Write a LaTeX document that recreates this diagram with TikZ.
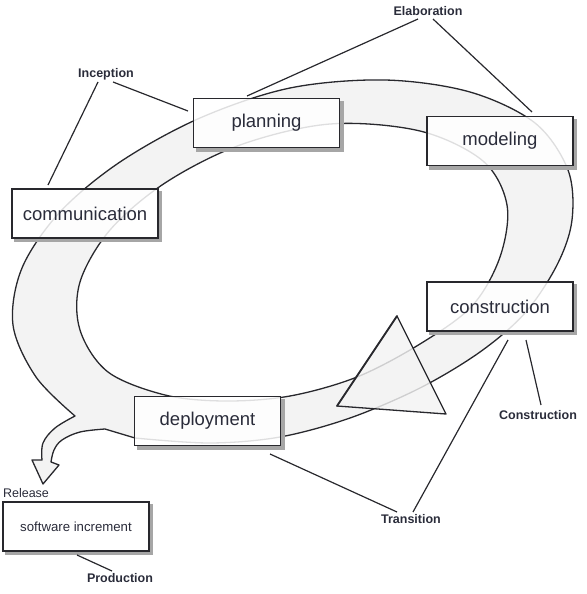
\documentclass[tikz,border=0pt]{standalone}
\usepackage{fontspec}
\setmainfont{Liberation Sans}
\definecolor{ink}{RGB}{42,44,58}
\definecolor{bandgray}{RGB}{243,243,243}
\definecolor{edge}{RGB}{40,40,45}
\tikzset{
 box/.style={draw=edge, line width=1.3pt, fill=white, fill opacity=0.85, text opacity=1,
   minimum width=146pt, minimum height=49pt, inner sep=0pt, text=ink,
   font=\fontsize{18.5}{20}\selectfont},
 smallbox/.style={box, font=\fontsize{13.2}{15}\selectfont},
 phase/.style={font=\bfseries\fontsize{12.5}{14}\selectfont, text=ink, inner sep=0pt},
 lead/.style={draw=edge, line width=1.2pt},
 band/.style={fill=bandgray, draw=edge, line width=1.3pt, even odd rule, line join=round},
 shade/.style={fill=black!35},
}
\begin{document}
\begin{tikzpicture}[x=1pt,y=-1pt]
\useasboundingbox (0,0) rectangle (586,594);
% band (spiral ring with release arrow)
\path[band]
  plot[smooth, tension=0.55] coordinates {(75,416) (36,377) (13,325) (22,268) (60,212) (120,162) (200,118) (290,88) (385,80) (470,92) (535,123) (568,170) (572,220) (557,265) (525,313) (480,352) (420,388) (350,418) (280,437) (210,443) (135,438)}
  -- (105,429)
  -- plot[smooth, tension=0.6] coordinates {(105,429) (80,432) (62,440) (54,450) (51,462)}
  -- (59,465) -- (43,484) -- (32,460) -- (42,460)
  -- plot[smooth, tension=0.6] coordinates {(42,460) (43,443) (55,428) (75,416)}
  -- cycle
  plot[smooth cycle, tension=0.55] coordinates {(165,395) (108,372) (80,330) (80,282) (110,230) (165,183) (240,145) (330,124) (420,131) (483,161) (507,205) (500,257) (472,306) (420,344) (357,377) (290,396) (225,401)};
% arrowhead
\coordinate (ta) at (397,316);
\coordinate (tb) at (337,406);
\coordinate (tc) at (446,414);
\fill[bandgray, fill opacity=0.82] (ta) -- (tb) -- (tc) -- cycle;
\draw[edge, line width=1.3pt, line join=round] (tb) -- (tc) -- (ta);
\draw[edge, line width=1.9pt, line cap=round] (ta) -- (tb);
% boxes
\node[box] (plan) at (266.5,123) {planning};
\node[box] (model) at (500,141) {modeling};
\node[box] (comm) at (85,213.5) {communication};
\node[box] (cons) at (500,306.5) {construction};
\node[box] (depl) at (207.5,421) {deployment};
\node[smallbox] (soft) at (76,526.5) {software increment};
\foreach \n in {plan,model,comm,cons,depl,soft}{
  \fill[shade] ([yshift=-3pt]\n.north east) rectangle ([xshift=3.5pt,yshift=-3.5pt]\n.south east);
  \fill[shade] ([xshift=3pt]\n.south west) rectangle ([xshift=3.5pt,yshift=-3.5pt]\n.south east);
}
% phase labels
\node[phase] (elab) at (428,11) {Elaboration};
\node[phase] (incep) at (106,74) {Inception};
\node[phase] (constr) at (538,415) {Construction};
\node[phase] (trans) at (411,519) {Transition};
\node[phase] (prod) at (120,578) {Production};
\node[font=\fontsize{12.5}{14}\selectfont, text=ink, inner sep=0pt] (rel) at (26,493) {Release};
% lead ends
\coordinate (e1) at (418,19);  \coordinate (e1b) at (247,96);
\coordinate (e2) at (433,19);  \coordinate (e2b) at (532,112);
\coordinate (i1) at (98,82);   \coordinate (i1b) at (48,185);
\coordinate (i2) at (113,82);  \coordinate (i2b) at (188,111);
\coordinate (c1) at (526,340); \coordinate (c1b) at (541,405);
\coordinate (t1) at (270,454); \coordinate (t1b) at (397,512);
\coordinate (t2) at (508,340); \coordinate (t2b) at (413,512);
\coordinate (p1) at (77,555);  \coordinate (p1b) at (112,571);
\draw[lead] (e1) -- (e1b);
\draw[lead] (e2) -- (e2b);
\draw[lead] (i1) -- (i1b);
\draw[lead] (i2) -- (i2b);
\draw[lead] (c1) -- (c1b);
\draw[lead] (t1) -- (t1b);
\draw[lead] (t2) -- (t2b);
\draw[lead] (p1) -- (p1b);
\end{tikzpicture}
\end{document}
